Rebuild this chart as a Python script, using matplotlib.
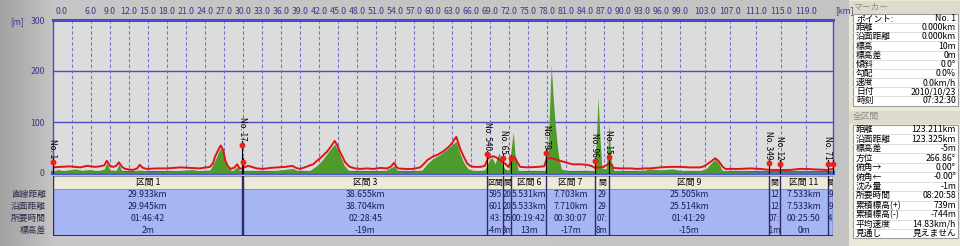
import numpy as np
import matplotlib
matplotlib.use('Agg')
import matplotlib.pyplot as plt
from matplotlib.patches import Rectangle
from matplotlib.transforms import Bbox, TransformedBbox

plt.rcParams['font.family'] = ['Noto Sans CJK JP', 'DejaVu Sans']

# ---------------- data ----------------
TOTAL_KM = 123.211

elev_km = [0.0, 1.1, 2.7, 4.3, 5.4, 6.6, 7.4, 8.1, 8.5, 9.0, 9.5, 10.0, 10.4, 10.9, 11.4, 12.6,
           13.3, 13.7, 14.2, 14.8, 16.4, 18.0, 20.1, 21.6, 23.2, 24.3, 24.8, 25.3, 25.6, 26.1,
           26.5, 26.9, 27.2, 27.6, 28.0, 28.6, 29.1, 29.5, 30.0, 30.8, 31.4, 32.2, 33.2, 34.3,
           35.4, 36.7, 37.8, 38.4, 39.0, 40.0, 40.6, 41.1, 41.7, 42.2, 42.8, 43.3, 43.9, 44.5,
           45.0, 45.3, 45.8, 46.1, 46.6, 46.9, 47.7, 48.5, 49.6, 50.6, 51.7, 52.8, 53.4, 53.9,
           54.2, 54.5, 55.6, 56.9, 58.0, 58.6, 59.1, 60.0, 60.8, 61.6, 62.4, 63.0, 63.7, 64.0,
           64.3, 64.8, 65.4, 65.9, 66.4, 67.5, 68.2, 68.5, 68.7, 69.5, 70.1, 70.6, 71.1, 71.4,
           71.9, 72.4, 72.7, 73.0, 73.3, 73.8, 75.0, 76.5, 77.6, 78.0, 78.8, 80.1, 81.2, 82.1,
           83.3, 84.4, 85.2, 85.6, 86.4, 86.9, 87.4, 87.8, 88.2, 88.5, 89.6, 91.2, 92.3, 93.5,
           94.3, 95.9, 97.5, 99.1, 100.6, 102.2, 102.8, 103.3, 104.0, 104.6, 105.1, 105.4,
           105.8, 106.2, 108.5, 110.1, 111.7, 113.3, 114.8, 116.4, 118.0, 119.1, 120.4, 122.3,
           123.2]
elev_m = [11, 12, 13, 11, 14, 12, 13, 15, 24, 14, 12, 14, 21, 12, 8, 6,
          9, 16, 10, 8, 9, 9, 11, 10, 9, 11, 12, 20, 32, 45,
          54, 45, 25, 14, 8, 10, 17, 8, 10, 14, 12, 9, 8, 10,
          11, 12, 14, 10, 8, 12, 15, 17, 24, 29, 36, 42, 52, 63,
          52, 42, 30, 22, 15, 12, 9, 8, 9, 8, 10, 9, 13, 20,
          13, 9, 8, 8, 11, 18, 25, 32, 36, 42, 50, 58, 71, 60,
          48, 34, 19, 14, 12, 12, 14, 22, 29, 33, 30, 25, 20, 19,
          12, 24, 32, 30, 22, 12, 11, 12, 13, 29, 29, 24, 20, 17,
          17, 16, 13, 10, 11, 12, 15, 19, 18, 10, 9, 9, 8, 9,
          9, 11, 12, 12, 11, 11, 13, 17, 23, 29, 24, 19,
          12, 8, 8, 9, 8, 6, 6, 6, 8, 8, 7, 6,
          8]

green_km = [0.0, 0.8, 1.6, 2.4, 3.5, 4.6, 5.8, 7.0, 8.1, 8.5, 9.0, 10.0, 10.4, 10.9, 12.2,
            13.7, 15.3, 17.7, 20.1, 22.0, 23.2, 24.8, 25.6, 26.1, 26.5, 27.0, 27.5, 28.3,
            29.1, 29.5, 31.1, 33.5, 35.9, 37.8, 39.0, 40.6, 41.7, 42.5, 43.3, 43.9, 44.5,
            45.0, 45.5, 46.0, 46.6, 47.7, 50.1, 52.4, 53.9, 54.5, 56.4, 58.3, 59.1, 60.0,
            61.1, 62.1, 63.0, 63.7, 64.3, 64.9, 65.6, 66.7, 68.2, 68.9, 69.4, 69.8, 70.5,
            70.8, 71.4, 72.0, 72.5, 72.7, 73.0, 73.5, 74.6, 76.9, 77.7, 78.2, 78.7, 79.0,
            79.3, 79.6, 79.9, 80.3, 81.7, 84.0, 85.5, 85.8, 86.1, 86.4, 86.7, 87.4, 87.7,
            87.8, 88.2, 88.6, 90.4, 92.8, 94.3, 95.9, 97.8, 99.1, 100.6, 102.2, 103.3,
            104.0, 104.6, 105.2, 105.7, 107.7, 111.7, 116.4, 123.2]
green_m = [3, 7, 4, 6, 8, 5, 7, 4, 8, 20, 6, 5, 17, 4, 2,
           6, 2, 3, 5, 7, 4, 6, 25, 40, 50, 35, 12, 4,
           12, 3, 4, 3, 6, 9, 3, 5, 15, 25, 38, 48, 57,
           45, 30, 15, 6, 3, 3, 4, 14, 3, 2, 6, 18, 28,
           36, 45, 55, 62, 38, 20, 8, 4, 6, 25, 30, 18, 40,
           20, 8, 5, 60, 80, 35, 5, 3, 3, 5, 40, 212, 150,
           100, 60, 30, 8, 3, 3, 5, 60, 149, 70, 10, 8, 60,
           98, 20, 5, 3, 4, 8, 6, 8, 5, 4, 4, 10,
           20, 27, 18, 5, 3, 2, 2, 2]

tick_km = [0, 3, 6, 9, 12, 15, 18, 21, 24, 27, 30, 33, 36, 39, 42, 45, 48, 51, 54, 57, 60,
           63, 66, 69, 72, 75, 78, 81, 84, 87, 90, 93, 96, 99, 103, 107, 111, 115, 119]
tick_labels = ['0.0', '', '6.0', '9.0', '12.0', '15.0', '18.0', '21.0', '24.0', '27.0', '30.0',
               '33.0', '36.0', '39.0', '42.0', '45.0', '48.0', '51.0', '54.0', '57.0', '60.0',
               '63.0', '66.0', '69.0', '72.0', '75.0', '78.0', '81.0', '84.0', '87.0', '90.0',
               '93.0', '96.0', '99.0', '103.0', '107.0', '111.0', '115.0', '119.0']
y_ticks = [0, 100, 200, 300]

marker_km = [0.0, 29.93, 30.09, 68.6, 71.1, 72.4, 77.9, 85.6, 87.8, 113.1, 114.8, 122.4, 123.2]
marker_elev = [22, 55, 22, 37, 30, 29, 40, 23, 31, 19, 18, 18, 18]
marker_labels = ['No. 1', 'No. 17', '', 'No. 540', 'No. 65', '', 'No. 79', 'No. 96', 'No. 15',
                 'No. 349', 'No. 12', 'No. 71', '']

# table cells as they are visible (narrow columns show only a clipped fragment)
section_names = ['区間 1', '', '区間 3', '区間', '間', '区間 6', '区間 7', '間',
                 '区間 9', '間', '区間 11', '間']
sec_straight = ['29.933km', '', '38.655km', '595', '20', '5.531km', '7.703km',
                '29', '25.505km', '12', '7.533km', '9']
sec_surface = ['29.945km', '', '38.704km', '601', '20', '5.533km', '7.710km',
               '29', '25.514km', '12', '7.533km', '9']
sec_time = ['01:46:42', '', '02:28:45', ':43:', '05', '00:19:42', '00:30:07',
            '07:', '01:41:29', '07:', '00:25:50', '4']
sec_diff = ['2m', '', '-19m', '-4m', '3m', '13m', '-17m', '8m', '-15m', '-1m', '0m', '']
row_labels = ['直線距離', '沿面距離', '所要時間', '標高差']

marker_fields = ['ポイント:', '距離', '沿面距離', '標高', '標高差', '傾斜', '勾配', '速度', '日付', '時刻']
marker_values = ['No. 1', '0.000km', '0.000km', '10m', '0m', '0.0°', '0.0%', '0.0km/h',
                 '2010/10/23', '07:32:30']
total_fields = ['距離', '沿面距離', '標高差', '方位', '俯角→', '俯角←', '沈み量', '所要時間',
                '累積標高(+)', '累積標高(-)', '平均速度', '見通し']
total_values = ['123.211km', '123.325km', '-5m', '266.86°', '0.00°', '-0.00°', '-1m', '08:20:58',
                '739m', '-744m', '14.83km/h', '見えません']

# ---------------- layout ----------------
W, H = 960, 246
fig = plt.figure(figsize=(W / 100, H / 100), dpi=100)

NAVY = '#3a3a8a'
FS = 6.3

# background gradient
bg = fig.add_axes([0, 0, 1, 1], zorder=-10)
gx = np.arange(W)
grad = np.interp(gx, [0, 55, 960], [0.63, 0.775, 0.765])
bg.imshow(np.tile(grad, (4, 1)), cmap='gray', vmin=0, vmax=1, aspect='auto',
          extent=[0, W, H, 0])
bg.set_xlim(0, W)
bg.set_ylim(H, 0)
bg.axis('off')

# main chart
ax = fig.add_axes([53 / W, (H - 173) / H, 780 / W, 153 / H])
ax.set_facecolor('#dcdcdc')
ax.set_xlim(0, TOTAL_KM)
ax.set_ylim(0, 300)

for v in y_ticks[1:3]:
    ax.axhline(v, color='#4b4bc8', lw=1.0, zorder=1)
for k in tick_km[1:]:
    ax.axvline(k, color='#7474cc', lw=0.8, ls=(0, (3, 2)), zorder=1)

ax.axhspan(0, 3, color='#a8a8d8', zorder=2, lw=0)
ax.fill_between(green_km, 0, green_m, color='#4f9a2c', lw=0, zorder=3)
ax.plot(elev_km, elev_m, color='#e01414', lw=1.4, zorder=4)

for k, e, lab in zip(marker_km, marker_elev, marker_labels):
    ax.plot([k, k], [0, e + 7], color='black', lw=0.8, zorder=5, clip_on=False)
    ax.plot(k, e, 'o', color='#e82020', ms=3.2, mec='#e82020', zorder=6, clip_on=False)
    if lab:
        ax.text(k, e + 8, lab, rotation=270, ha='center', va='bottom', fontsize=5.8,
                color='black', zorder=7)

for side in ['left', 'right']:
    ax.spines[side].set_color('#4b4bc8')
    ax.spines[side].set_linewidth(1.0)
ax.spines['top'].set_color('#4b4bc8')
ax.spines['top'].set_linewidth(2.2)
ax.spines['bottom'].set_color('#4b5ad0')
ax.spines['bottom'].set_linewidth(3)

ax.set_xticks([])
ax.set_yticks(y_ticks)
ax.set_yticklabels([str(v) for v in y_ticks], color=NAVY, fontsize=FS)
ax.tick_params(axis='y', length=0, pad=6)

xt = ax.get_xaxis_transform()
for k, lab in zip(tick_km, tick_labels):
    if not lab:
        continue
    if k == 0:
        ax.text(k + 0.45, 1 + 9 / 153, lab, transform=xt, ha='left', va='center',
                fontsize=FS, color=NAVY, clip_on=False)
    else:
        ax.text(k, 1 + 9 / 153, lab, transform=xt, ha='center', va='center',
                fontsize=FS, color=NAVY, clip_on=False)

fig.text(10 / W, 1 - 22 / H, '[m]', fontsize=FS, color=NAVY, ha='left', va='center')
fig.text(835 / W, 1 - 11 / H, '[km]', fontsize=FS, color=NAVY, ha='left', va='center')

# section table
tab = fig.add_axes([53 / W, (H - 236) / H, 780 / W, 60 / H])
tab.set_xlim(0, TOTAL_KM)
tab.set_ylim(60, 0)
tab.axis('off')
HDR = 13
tab.add_patch(Rectangle((0, 0), TOTAL_KM, HDR, facecolor='#ecebd9', edgecolor='none'))
tab.add_patch(Rectangle((0, HDR), TOTAL_KM, 60 - HDR, facecolor='#a6b6f4', edgecolor='none'))
tab.plot([0, TOTAL_KM], [0.3, 0.3], color='#9a9aa8', lw=0.8)
tab.plot([0, TOTAL_KM], [HDR, HDR], color='#8888aa', lw=0.6)
tab.plot([0, TOTAL_KM], [59.5, 59.5], color='#2c2c66', lw=1.4)
tab.plot([0, 0], [0, 60], color='#2c2c66', lw=1.0)

row_h = (60 - HDR) / 4
bounds = marker_km
for i in range(len(section_names)):
    x0, x1 = bounds[i], bounds[i + 1]
    tab.plot([x1, x1], [0, 60], color='#2c2c66', lw=1.0)
    cb = TransformedBbox(Bbox([[x0, 0], [x1, 60]]), tab.transData)
    xc = (x0 + x1) / 2
    narrow = (x1 - x0) < 4
    fs = FS - 0.6 if narrow else FS
    cells = [section_names[i], sec_straight[i], sec_surface[i], sec_time[i], sec_diff[i]]
    ys = [HDR / 2] + [HDR + row_h * (r + 0.5) for r in range(4)]
    for r, (v, yc) in enumerate(zip(cells, ys)):
        if not v:
            continue
        t = tab.text(xc, yc, v, ha='center', va='center', fontsize=fs,
                     color='black' if r == 0 else '#1c1c5c', clip_on=True)
        t.set_clip_box(cb)

for r, lab in enumerate(row_labels):
    tab.text(-7 / 780 * TOTAL_KM, HDR + row_h * (r + 0.5), lab, ha='right', va='center',
             fontsize=FS, color='#2a2a4a', clip_on=False)

# right panel
pn = fig.add_axes([849 / W, 0, 111 / W, 1])
pn.set_xlim(0, 111)
pn.set_ylim(H, 0)
pn.axis('off')
pn.add_patch(Rectangle((0, 0), 111, H, facecolor='#ece9d8', edgecolor='none'))


def panel_block(title, y_title, fields, values, y0, rh):
    pn.add_patch(Rectangle((0, y_title - 6.5), 111, 13, facecolor='#dedbcd', edgecolor='none'))
    pn.text(4, y_title, title, ha='left', va='center', fontsize=FS, color='#8a8a8a')
    n = len(fields)
    pn.add_patch(Rectangle((4, y0), 105, rh * n, facecolor='white', edgecolor='#9a9a9a', lw=0.8))
    for j in range(1, n):
        pn.plot([4, 109], [y0 + rh * j, y0 + rh * j], color='#d8d8d8', lw=0.6)
    for j, (f, v) in enumerate(zip(fields, values)):
        yc = y0 + rh * (j + 0.5)
        pn.text(7, yc, f, ha='left', va='center', fontsize=FS, color='black')
        pn.text(107, yc, v, ha='right', va='center', fontsize=FS, color='black')


panel_block('マーカー', 7.5, marker_fields, marker_values, 14.0, 9.15)
panel_block('全区間', 117, total_fields, total_values, 125.0, 9.45)

fig.savefig('out.png', dpi=100)
